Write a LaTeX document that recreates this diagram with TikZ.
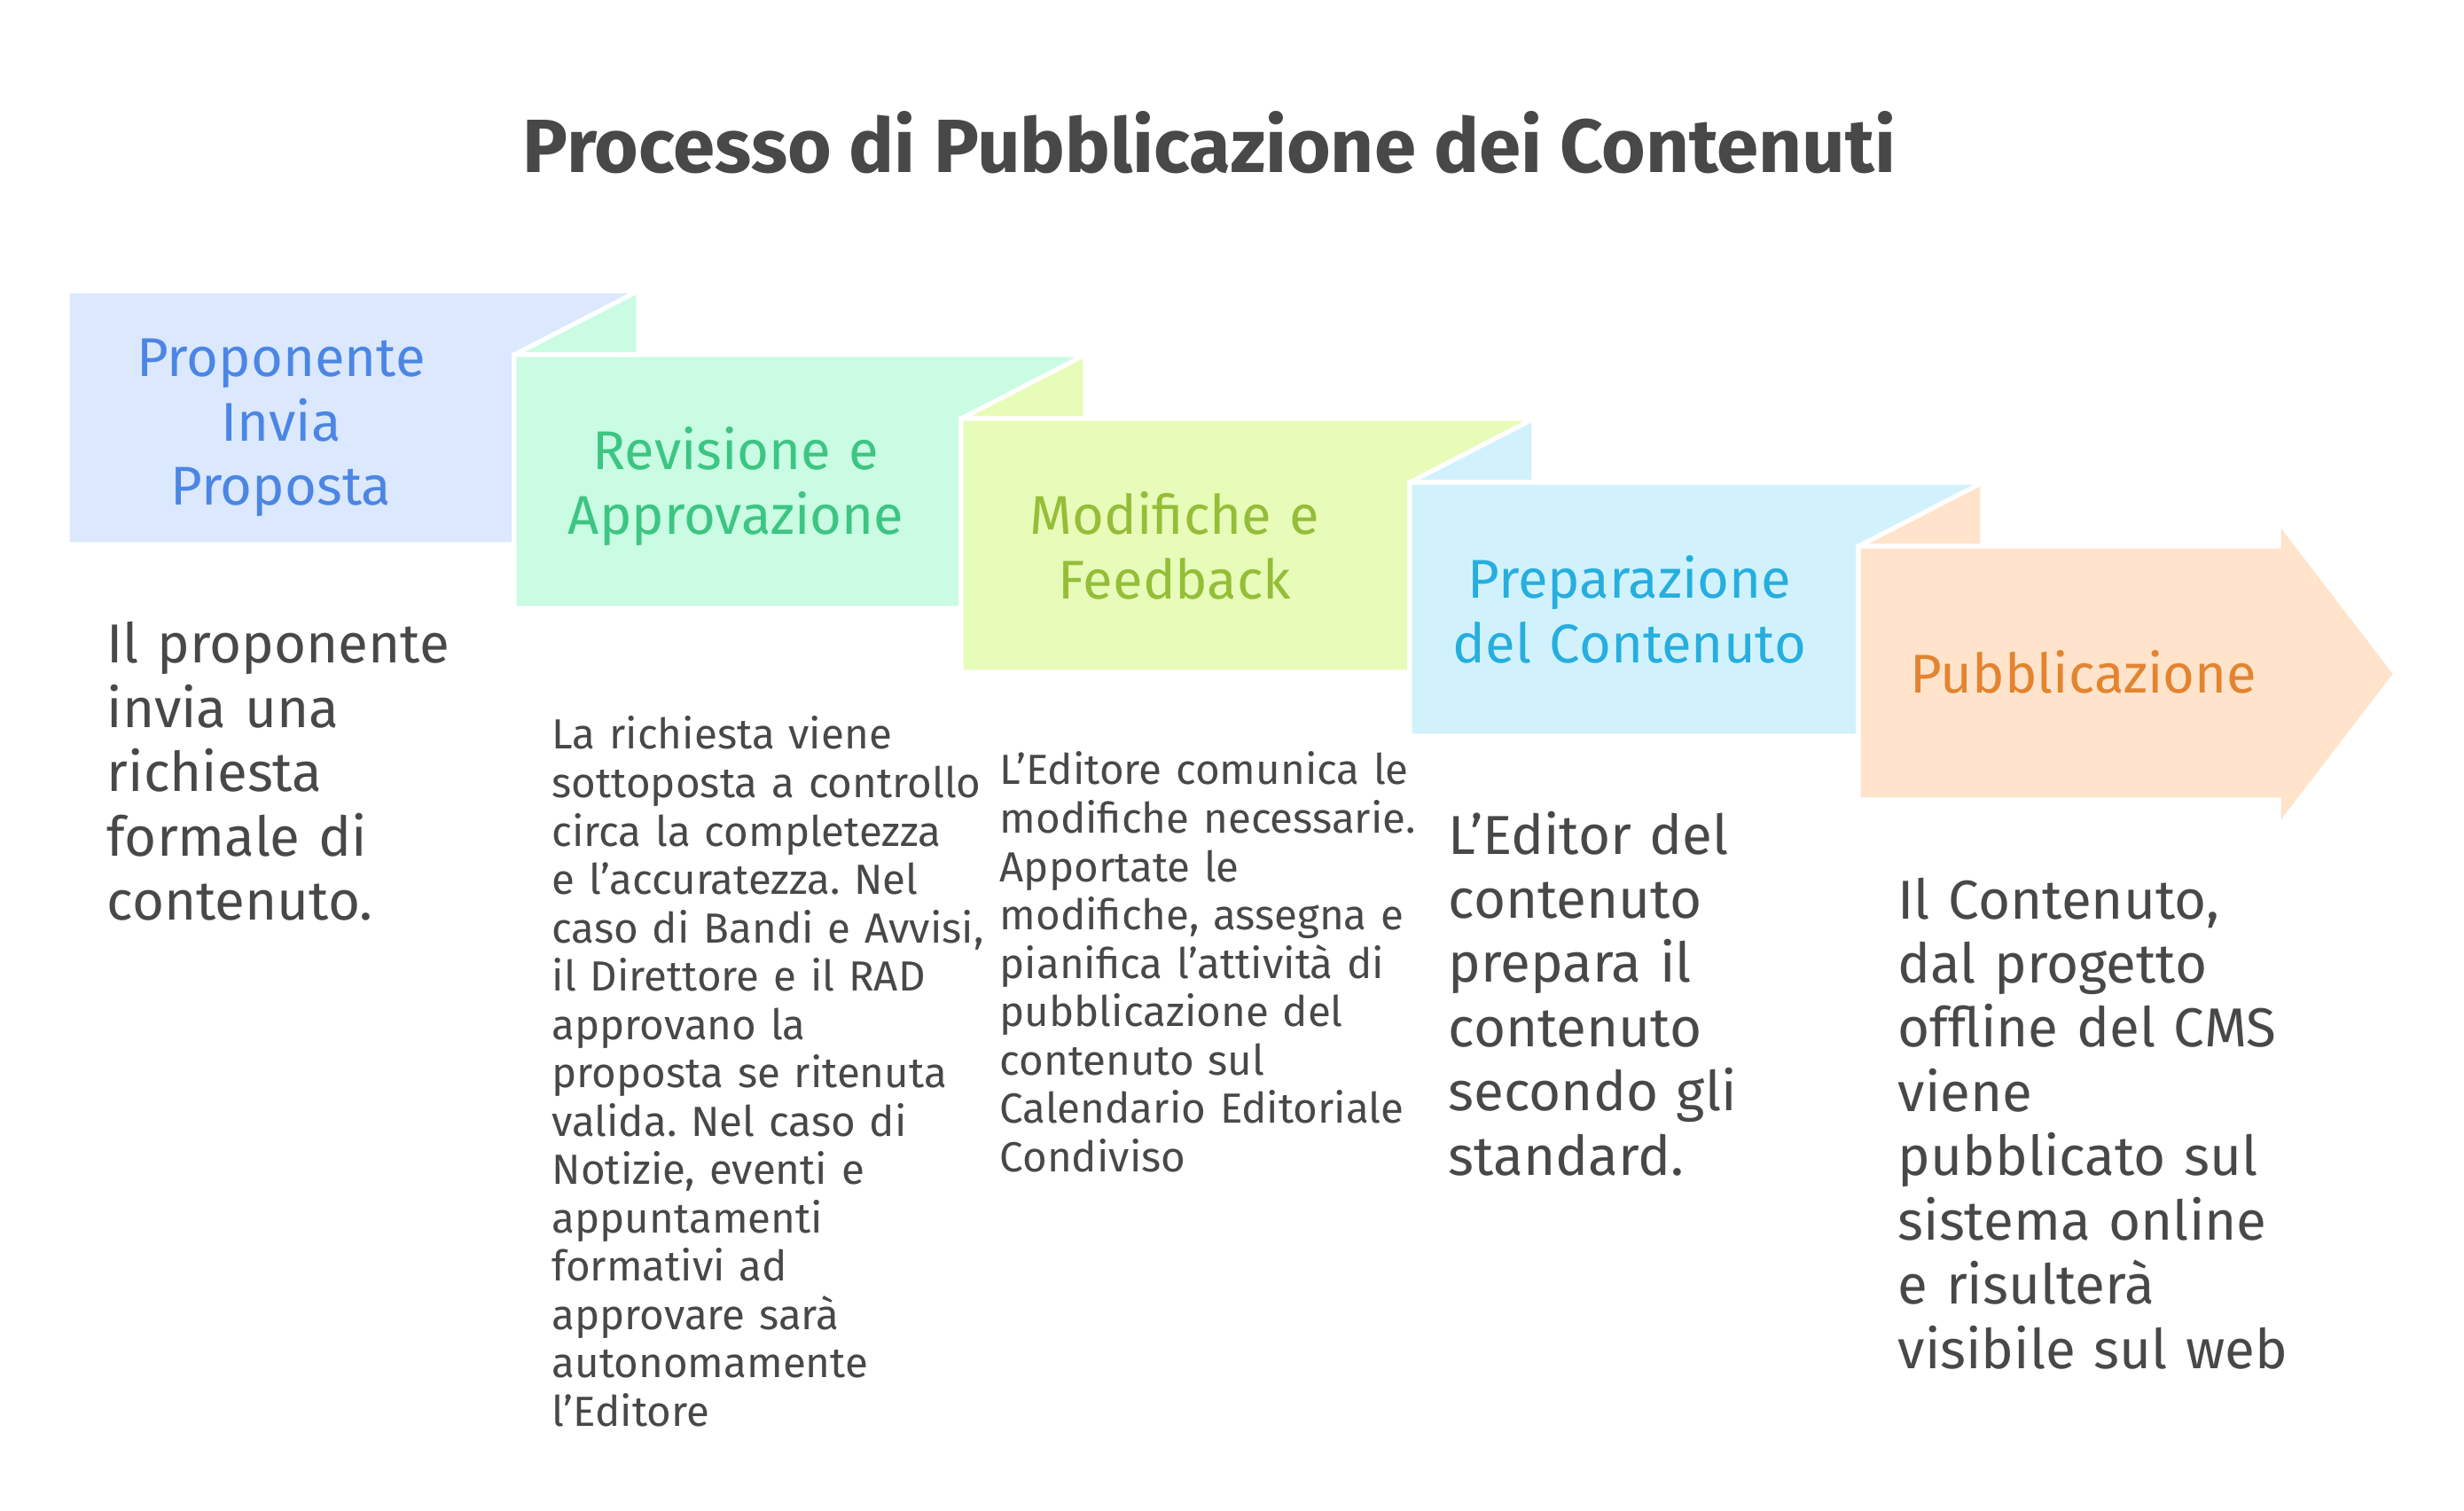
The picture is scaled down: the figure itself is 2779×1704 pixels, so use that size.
\documentclass[tikz,border=0pt]{standalone}
\usepackage{fontspec}
\setmainfont{Fira Sans}
\frenchspacing
\definecolor{fa}{HTML}{DBE8FE}\definecolor{ta}{HTML}{4B86E4}
\definecolor{fb}{HTML}{C9FCE3}\definecolor{tb}{HTML}{3CC583}
\definecolor{fc}{HTML}{E8FCB9}\definecolor{tc}{HTML}{95BE38}
\definecolor{fd}{HTML}{D1F2FD}\definecolor{td}{HTML}{26AEDF}
\definecolor{fe}{HTML}{FFE3CB}\definecolor{te}{HTML}{E38430}
\definecolor{ink}{HTML}{484848}
\tikzset{
  panel/.style={draw=white, line width=1.45pt, line join=miter},
  headtext/.style={font=\fontsize{17.5}{20.6}\selectfont, align=center, text width=4.8cm, inner sep=0pt, anchor=base},
  bigtext/.style={font=\fontsize{17.6}{20.6}\selectfont, align=left, text width=5.5cm, inner sep=0pt, anchor=base west, text=ink},
  smalltext/.style={font=\fontsize{13.5}{15.5}\selectfont, align=left, text width=5.5cm, inner sep=0pt, anchor=base west, text=ink},
  titletext/.style={font=\fontsize{24.2}{28}\selectfont\bfseries, inner sep=0pt, anchor=base, text=ink}
}
\begin{document}
\begin{tikzpicture}[x=0.01cm,y=-0.01cm]
\useasboundingbox (0,0) rectangle (2779,1704);
\fill[white] (0,0) rectangle (2779,1704);
% fold triangles (under the flaps)
\path[panel, fill=fb] (580,400) -- (720,328) -- (720,400) -- cycle;
\path[panel, fill=fc] (1084,472) -- (1224,400) -- (1224,472) -- cycle;
\path[panel, fill=fd] (1590,544) -- (1730,472) -- (1730,544) -- cycle;
\path[panel, fill=fe] (2096,616) -- (2236,544) -- (2236,616) -- cycle;
% panels
\path[panel, fill=fa] (76,328) -- (720,328) -- (580,400) -- (580,614) -- (76,614) -- cycle;
\path[panel, fill=fb] (580,400) -- (1224,400) -- (1084,472) -- (1084,686) -- (580,686) -- cycle;
\path[panel, fill=fc] (1084,472) -- (1730,472) -- (1590,544) -- (1590,758) -- (1084,758) -- cycle;
\path[panel, fill=fd] (1590,544) -- (2236,544) -- (2096,616) -- (2096,830) -- (1590,830) -- cycle;
\path[panel, fill=fe] (2096,616) -- (2570,616) -- (2570,588) -- (2702,760) -- (2570,932) -- (2570,902) -- (2096,902) -- cycle;
% title
\node[titletext] (title) at (1364,195) {Processo di Pubblicazione dei Contenuti};
% headings
\node[headtext, text=ta] (h1) at (317,425) {Proponente\\Invia\\Proposta};
\node[headtext, text=tb] (h2) at (830,530) {Revisione e\\Approvazione};
\node[headtext, text=tc] (h3) at (1325,603) {Modifiche e\\Feedback};
\node[headtext, text=td] (h4) at (1838,675) {Preparazione\\del Contenuto};
\node[headtext, text=te] (h5) at (2350,782) {Pubblicazione};
% descriptions
\node[bigtext] (d1) at (120,748) {Il proponente\\invia una\\richiesta\\formale di\\contenuto.};
\node[smalltext] (d2) at (622,845) {La richiesta viene\\sottoposta a controllo\\circa la completezza\\e l'accuratezza. Nel\\caso di Bandi e Avvisi,\\il Direttore e il RAD\\approvano la\\proposta se ritenuta\\valida. Nel caso di\\Notizie, eventi e\\appuntamenti\\formativi ad\\approvare sarà\\autonomamente\\l'Editore};
\node[smalltext] (d3) at (1127,885) {L'Editore comunica le\\modifiche necessarie.\\Apportate le\\modifiche, assegna e\\pianifica l'attività di\\pubblicazione del\\contenuto sul\\Calendario Editoriale\\Condiviso};
\node[bigtext] (d4) at (1633,963) {L'Editor del\\contenuto\\prepara il\\contenuto\\secondo gli\\standard.};
\node[bigtext] (d5) at (2140,1036) {Il Contenuto,\\dal progetto\\offline del CMS\\viene\\pubblicato sul\\sistema online\\e risulterà\\visibile sul web};
\end{tikzpicture}
\end{document}
